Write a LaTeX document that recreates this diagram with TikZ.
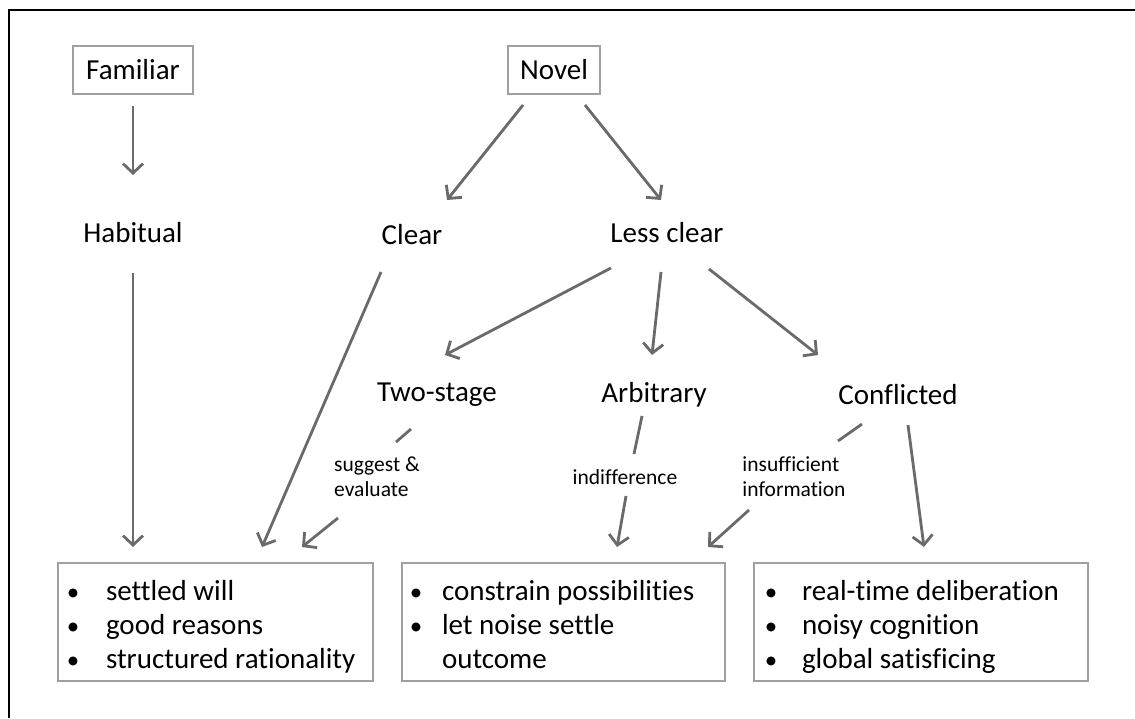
\documentclass[tikz,border=0pt]{standalone}
\usepackage{fontspec}
\setmainfont{Carlito}[Ligatures=NoCommon]
\usetikzlibrary{arrows.meta}
\definecolor{arrowgray}{HTML}{6A6A6A}
\definecolor{boxgray}{HTML}{A0A0A0}
% bullet item: bullet centred at #1, text starting at #2 (from the box edge)
\newcommand\bitem[3]{\hspace*{#1}\makebox[0pt]{\raisebox{0.8pt}{\fontsize{25}{25}\selectfont\textbullet}}\hspace*{\dimexpr#2-#1\relax}#3}
% left-aligned list set inside a box of width #1, lowered a little
\newcommand\listin[2]{\raisebox{-6pt}[\height][\depth]{\makebox[#1][l]{\renewcommand\arraystretch{1}\begin{tabular}{@{}l@{}}#2\end{tabular}}}}
\begin{document}
\begin{tikzpicture}[x=1pt,y=-1pt,
  big/.style={font=\fontsize{29}{34}\selectfont, inner sep=0pt},
  small/.style={font=\fontsize{21.5}{25}\selectfont, inner sep=0pt, align=left},
  topbox/.style={big, draw=boxgray, line width=1.3pt, minimum height=48pt},
  listbox/.style={big, draw=boxgray, line width=1.3pt, minimum height=118pt,
    inner xsep=0pt},
  arr/.style={draw=arrowgray, line width=2.8pt,
    -{Straight Barb[length=9.5pt,width=20pt]}},
  seg/.style={draw=arrowgray, line width=2.8pt}
]
\useasboundingbox (0,0) rectangle (1135,718);
% frame
\draw[line width=2pt] (9,718) -- (9,10) -- (1135,10);

% upper nodes
\node[topbox, minimum width=120pt] (familiar) at (133,70) {Familiar};
\node[topbox, minimum width=92pt] (novel) at (554,70) {Novel};
\node[big] (habitual) at (133,233) {Habitual};
\node[big] (clear) at (412,235) {Clear};
\node[big] (lessclear) at (667,233) {Less clear};
\node[big] (twostage) at (437,395) {Two-stage};
\node[big] (arbitrary) at (654,395) {Arbitrary};
\node[big] (conflicted) at (898,395) {Conflicted};

% edge labels
\node[small] (suggest) at (377,477) {suggest \&\\evaluate};
\node[small] (indiff) at (625,477) {indifference};
\node[small] (insuff) at (794,477) {insufficient\\information};

% lower boxes
\node[listbox, minimum width=315pt] (box1) at (215.5,622)
  {\listin{315pt}{\bitem{15pt}{48pt}{settled will}\\
   \bitem{15pt}{48pt}{good reasons}\\
   \bitem{15pt}{48pt}{structured rationality}}};
\node[listbox, minimum width=323pt] (box2) at (563.5,622)
  {\listin{323pt}{\bitem{14pt}{40pt}{constrain possibilities}\\
   \bitem{14pt}{40pt}{let noise settle}\\
   \hspace*{40pt}outcome}};
\node[listbox, minimum width=334pt] (box3) at (921,622)
  {\listin{334pt}{\bitem{17pt}{48pt}{real-time deliberation}\\
   \bitem{17pt}{48pt}{noisy cognition}\\
   \bitem{17pt}{48pt}{global satisficing}}};

% connectors
\draw[arr] ([shift={(0,36)}]familiar.center) -- ([shift={(0,-58)}]habitual.center);
\draw[arr] ([shift={(0,40)}]habitual.center) -- ([shift={(-82.5,-75)}]box1.center);
\draw[arr] ([shift={(-31,35)}]novel.center) -- ([shift={(35,-35)}]clear.center);
\draw[arr] ([shift={(31,35)}]novel.center) -- ([shift={(-6,-33)}]lessclear.center);
\draw[arr] ([shift={(-31,37)}]clear.center) -- ([shift={(46.5,-75)}]box1.center);
\draw[arr] ([shift={(-56,35)}]lessclear.center) -- ([shift={(8,-40)}]twostage.center);
\draw[arr] ([shift={(-6,39)}]lessclear.center) -- ([shift={(-2,-40)}]arbitrary.center);
\draw[arr] ([shift={(42,36)}]lessclear.center) -- ([shift={(-80,-40)}]conflicted.center);
\draw[seg] ([shift={(-26,34)}]twostage.center) -- ([shift={(19,-35)}]suggest.center);
\draw[arr] ([shift={(-39,41)}]suggest.center) -- ([shift={(86.5,-75)}]box1.center);
\draw[seg] ([shift={(-12,21)}]arbitrary.center) -- ([shift={(9,-23)}]indiff.center);
\draw[arr] ([shift={(1,19)}]indiff.center) -- ([shift={(53.5,-75)}]box2.center);
\draw[seg] ([shift={(-36,29)}]conflicted.center) -- ([shift={(44,-36)}]insuff.center);
\draw[arr] ([shift={(-45,33)}]insuff.center) -- ([shift={(144.5,-75)}]box2.center);
\draw[arr] ([shift={(10,30)}]conflicted.center) -- ([shift={(3,-75)}]box3.center);
\end{tikzpicture}
\end{document}
